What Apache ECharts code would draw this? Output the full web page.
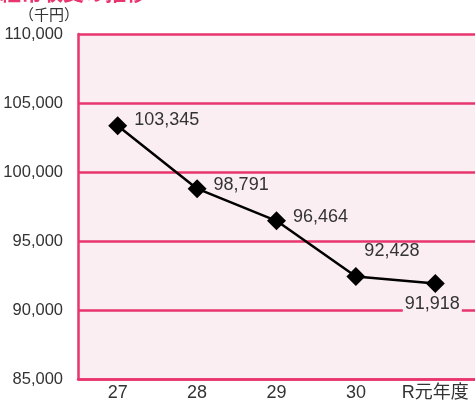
<!DOCTYPE html>
<html><head><meta charset="utf-8">
<script src="https://cdn.jsdelivr.net/npm/echarts@6/dist/echarts.min.js"></script>
<style>html,body{margin:0;padding:0;background:#fff}#c{width:475px;height:405px}</style>
</head><body><div id="c"></div>
<script>
const categories = ['27', '28', '29', '30', 'R元年度'];
const values = [103345, 98791, 96464, 92428, 91918];
const yTicks = [85000, 90000, 95000, 100000, 105000, 110000];
const unitLabel = '（千円）';

const pink = '#e8356e';
const bg = '#fbeef2';
const font = '"Liberation Sans", "Noto Sans CJK JP", sans-serif';

const labelOffsets = [[0, -6], [0, -4], [0, -4], [36, 0], [-3, 20]];
const labelPos = ['right', 'right', 'right', 'top', 'inside'];

const chart = echarts.init(document.getElementById('c'), null, {renderer: 'canvas'});
chart.setOption({
  animation: false,
  backgroundColor: '#fff',
  graphic: [{
    type: 'text', left: 0, top: -18,
    style: {text: '経常収支の推移', fill: pink, font: 'bold 21px "Noto Sans CJK JP"'}
  }, {
    type: 'text', left: 19, top: 7,
    style: {text: unitLabel, fill: '#333', font: '15px "Noto Sans CJK JP"'}
  }],
  grid: {left: 78, top: 34, right: -3, bottom: 26, backgroundColor: bg, show: true, borderWidth: 0},
  xAxis: {
    type: 'category', data: categories, boundaryGap: true,
    axisLine: {lineStyle: {color: pink, width: 2.5}},
    axisTick: {inside: true, length: 6, lineStyle: {color: pink, width: 2.5}},
    axisLabel: {color: '#333', fontSize: 18, fontFamily: font, margin: 5, interval: 0, hideOverlap: false}
  },
  yAxis: {
    type: 'value', min: yTicks[0], max: yTicks[yTicks.length - 1], interval: 5000,
    axisLine: {show: true, lineStyle: {color: pink, width: 2.5}},
    axisTick: {show: false},
    splitLine: {lineStyle: {color: pink, width: 2.5}},
    axisLabel: {color: '#333', fontSize: 16.5, fontFamily: font, margin: 15,
      formatter: v => v.toLocaleString('en-US')}
  },
  series: [{
    type: 'line',
    data: values.map((v, i) => ({
      value: v,
      label: {position: labelPos[i], offset: labelOffsets[i],
        backgroundColor: i === 4 ? bg : 'transparent', padding: i === 4 ? [0, 2] : 0}
    })),
    symbol: 'diamond', symbolSize: 19,
    itemStyle: {color: '#000'},
    lineStyle: {color: '#000', width: 2.5},
    label: {show: true, color: '#333', fontSize: 18, fontFamily: font,
      formatter: p => p.value.toLocaleString('en-US'), distance: 7}
  }]
});
</script></body></html>
